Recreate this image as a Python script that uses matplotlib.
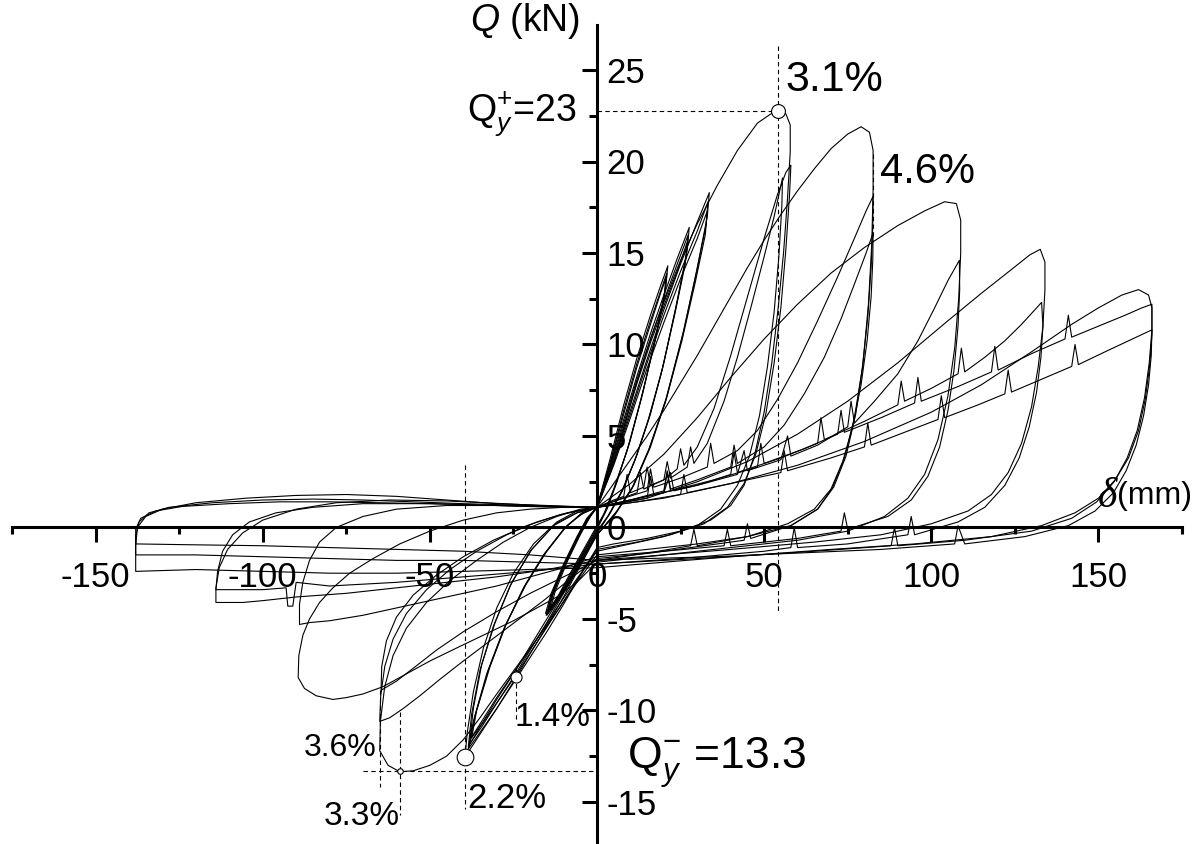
import numpy as np
import matplotlib
matplotlib.use("Agg")
import matplotlib.pyplot as plt

# ---- cyclic test record (delta in mm, Q in kN) ----
# small elastic cycles
g1a = [(0, 1.1), (4, 3.8), (8, 6.7), (12, 9.3), (16, 11.6), (19, 13.2), (21.2, 14.3), (20.6, 13.2), (18, 10.8),
       (14, 7.6), (10, 4.8), (6, 2.5), (3, 1.0), (0, -0.1), (-4, -1.4), (-8, -2.7), (-11, -3.7), (-14, -4.5),
       (-12.5, -3.5), (-9, -1.9), (-5, -0.4), (-2, 0.6), (0, 1.1)]
g1b = [(0, 1.1), (4, 3.6), (8, 6.4), (12, 9.0), (16, 11.3), (19, 12.9), (20.9, 13.9), (20.3, 12.8), (17.5, 10.3),
       (13.5, 7.2), (9.5, 4.5), (5.5, 2.3), (2.5, 0.9), (0, 0.0), (-4, -1.3), (-8, -2.6), (-11, -3.6), (-14.3, -4.5),
       (-12.8, -3.4), (-9, -1.8), (-5, -0.3), (-2, 0.6), (0, 1.1)]
g1c = [(0, 1.1), (4, 3.5), (8, 6.2), (12, 8.8), (16, 11.1), (19, 12.8), (20.6, 13.6), (20, 12.5), (17, 9.9),
       (13, 6.9), (9, 4.2), (5, 2.1), (2, 0.7), (0, 0.1), (-4, -1.2), (-8, -2.5), (-11.5, -3.7), (-14.6, -4.6),
       (-13, -3.4), (-9, -1.7), (-5, -0.2), (-2, 0.7), (0, 1.1)]
g2a = [(0, 1.1), (4, 3.4), (8, 5.9), (12, 8.3), (16, 10.6), (20, 12.7), (24, 14.7), (27.6, 16.4), (27, 15.2),
       (24, 12.4), (20, 9.0), (16, 6.2), (12, 4.0), (8, 2.2), (4, 0.8), (0, -0.3), (-4, -1.6), (-8, -3.0),
       (-12, -4.1), (-15, -4.8), (-13.5, -3.8), (-10, -2.2), (-6, -0.7), (-3, 0.4), (0, 1.1)]
g2b = [(0, 1.1), (4, 3.3), (8, 5.7), (12, 8.1), (16, 10.3), (20, 12.4), (24, 14.4), (27.3, 16.0), (26.7, 14.8),
       (23.6, 12.0), (19.6, 8.7), (15.6, 6.0), (11.6, 3.8), (7.6, 2.0), (3.6, 0.7), (0, -0.3), (-4, -1.5),
       (-8, -2.9), (-12, -4.0), (-15.2, -4.8), (-13.6, -3.7), (-10, -2.1), (-6, -0.6), (-3, 0.5), (0, 1.1)]
g2c = [(0, 1.1), (4, 3.2), (8, 5.5), (12, 7.9), (16, 10.1), (20, 12.1), (24, 14.0), (27.0, 15.6), (26.4, 14.4),
       (23.2, 11.6), (19.2, 8.4), (15.2, 5.8), (11.2, 3.6), (7.2, 1.9), (3.2, 0.6), (0, -0.2), (-4, -1.4),
       (-8, -2.8), (-12, -3.9), (-15.4, -4.7), (-13.7, -3.6), (-10, -2.0), (-6, -0.5), (-3, 0.5), (0, 1.1)]
g3a = [(0, 1.1), (5, 3.6), (10, 6.4), (15, 9.2), (20, 11.9), (25, 14.4), (30, 16.7), (33.6, 18.3), (33, 17.0),
       (30, 14.2), (26, 10.8), (21, 7.2), (16, 4.4), (11, 2.3), (6, 0.9), (0, -0.4), (-5, -2.1), (-10, -3.8),
       (-15, -5.4), (-20, -6.9), (-24.2, -8.2), (-30, -9.9), (-35, -11.2), (-38.5, -12.1), (-37, -10.6),
       (-33, -8.0), (-28, -5.6), (-22, -3.3), (-16, -1.5), (-10, -0.1), (-5, 0.7), (0, 1.1)]
g3b = [(0, 1.1), (5, 3.5), (10, 6.2), (15, 9.0), (20, 11.6), (25, 14.0), (30, 16.2), (33.2, 17.8), (32.6, 16.5),
       (29.6, 13.8), (25.6, 10.5), (20.6, 7.0), (15.6, 4.3), (10.6, 2.2), (5.6, 0.8), (0, -0.4), (-5, -2.0),
       (-10, -3.6), (-15, -5.2), (-20, -6.7), (-25, -8.2), (-30, -9.6), (-34.5, -10.9), (-38, -11.8),
       (-36.5, -10.3), (-32.5, -7.8), (-27.5, -5.4), (-21.5, -3.2), (-15.5, -1.4), (-9.5, 0.0), (-4.5, 0.8), (0, 1.1)]
g3c = [(0, 1.1), (5, 3.4), (10, 6.0), (15, 8.7), (20, 11.2), (25, 13.6), (30, 15.8), (33.0, 17.3), (32.4, 16.0),
       (29.4, 13.4), (25.4, 10.2), (20.4, 6.8), (15.4, 4.2), (10.4, 2.1), (5.4, 0.7), (0, -0.4), (-5, -1.9),
       (-10, -3.5), (-15, -5.0), (-20, -6.5), (-25, -8.0), (-30, -9.4), (-34, -10.6), (-37.5, -11.5),
       (-36, -10.0), (-32, -7.6), (-27, -5.2), (-21, -3.0), (-15, -1.3), (-9, 0.1), (-4, 0.8), (0, 1.1)]

# 3.1 % / 2.2 % cycles
cyc_a = [(0, 1.1), (4, 3.0), (8, 5.4), (12, 8.0), (16, 10.3), (20, 12.3), (25, 14.6), (30, 16.6), (36, 18.7),
         (42, 20.6), (48, 22.1), (52, 22.6), (54.2, 22.75), (56.5, 22.6), (57.8, 22.0), (57.8, 20.5), (57, 18.0),
         (55.8, 15.0), (54.2, 12.0), (52.3, 9.0), (50, 6.3), (47.2, 4.0), (44, 2.3), (40, 1.2), (34, 0.4),
         (25, -0.2), (15, -0.6), (5, -0.9), (0, -1.1), (-5, -2.6), (-10, -4.2), (-15, -5.7), (-20, -7.1),
         (-25, -8.5), (-30, -9.9), (-35, -11.3), (-39.5, -12.55), (-38.8, -11.2), (-37, -9.0), (-34, -6.6),
         (-30, -4.4), (-25, -2.5), (-19, -0.9), (-12, 0.3), (-6, 0.9), (0, 1.1)]
cyc_a2 = [(0, 1.1), (5, 1.5), (8, 1.7), (9, 2.9), (10, 1.9), (14, 2.2), (15, 3.3), (16, 2.3), (20, 2.6),
          (24, 3.2), (25, 4.3), (26, 3.4), (30, 4.4), (35, 6.5), (40, 9.4), (45, 12.6), (50, 15.8), (54, 18.2),
          (56.5, 19.4), (58, 19.8), (57.6, 18.2), (56.5, 15.2), (55, 12.0), (53, 9.0), (50.5, 6.2), (47.5, 4.0),
          (44, 2.4), (39, 1.1), (32, 0.2), (22, -0.4), (12, -0.8), (0, -1.2), (-6, -2.9), (-12, -4.6),
          (-18, -6.3), (-24, -8.0), (-30, -9.6), (-35, -10.9), (-38.5, -12.0), (-37.5, -10.2), (-35, -7.8),
          (-31, -5.4), (-26, -3.2), (-20, -1.3), (-13, 0.1), (-6, 0.8), (0, 1.1)]
cyc_a3 = [(0, 1.1), (6, 1.5), (12, 1.9), (13, 3.0), (14, 2.1), (20, 2.6), (21, 3.6), (22, 2.7), (27, 3.3),
          (28, 4.4), (29, 3.5), (33, 4.6), (38, 6.9), (42, 9.3), (46, 12.0), (50, 14.8), (53, 17.0), (55.5, 19.1),
          (55.3, 17.6), (54.4, 14.8), (53, 11.8), (51, 8.8), (48.6, 6.1), (45.6, 3.9), (42, 2.3), (37, 1.0),
          (30, 0.1), (20, -0.5), (10, -0.9), (0, -1.3), (-6, -2.8), (-12, -4.4), (-18, -6.1), (-24, -7.7),
          (-30, -9.3), (-34.5, -10.6), (-38, -11.6), (-37, -9.9), (-34.5, -7.5), (-30.5, -5.2), (-25.5, -3.0),
          (-19.5, -1.2), (-12.5, 0.2), (-6, 0.8), (0, 1.1)]

# 4.6 % / 3.6 % cycles
cyc_b = [(0, 1.1), (5, 2.4), (10, 3.7), (15, 5.0), (20, 6.4), (25, 7.9), (30, 9.4), (35, 11.0), (40, 12.6),
         (45, 14.2), (50, 15.7), (55, 17.1), (60, 18.4), (65, 19.6), (70, 20.7), (75, 21.5), (79, 21.9),
         (81.5, 21.6), (82.6, 20.6), (82.6, 18.5), (82.2, 15.5), (81.2, 12.2), (79.6, 9.0), (77.4, 6.2),
         (74.5, 3.9), (70.8, 2.2), (66, 1.0), (58, 0.1), (45, -0.5), (30, -0.9), (15, -1.2), (0, -1.5),
         (-6, -3.0), (-12, -4.6), (-18, -6.1), (-24, -7.6), (-30, -9.1), (-35, -10.4), (-40, -11.6), (-45, -12.5),
         (-50, -13.0), (-55, -13.3), (-59, -13.35), (-62.5, -13.0), (-65, -12.2), (-64.8, -10.6), (-63.5, -8.7),
         (-61, -7.0), (-57, -5.5), (-51, -4.1), (-44, -2.9), (-36, -1.8), (-28, -0.8), (-20, 0.0), (-12, 0.6),
         (-5, 1.0), (0, 1.1)]
cyc_b2 = [(0, 1.1), (8, 1.6), (15, 2.0), (16, 3.2), (17, 2.2), (25, 2.7), (33, 3.3), (34, 4.6), (35, 3.5),
          (42, 4.2), (48, 5.3), (54, 7.0), (60, 9.0), (66, 11.3), (72, 13.7), (77, 15.8), (80.5, 17.3),
          (82.6, 18.1), (82.5, 16.5), (82, 14.2), (81, 11.5), (79.3, 8.6), (77, 6.0), (74, 3.8), (70.5, 2.2),
          (66, 1.0), (58, 0.1), (46, -0.6), (45, 0.2), (44, -0.7), (32, -1.0), (16, -1.4), (0, -1.7), (-8, -2.8),
          (-16, -4.0), (-24, -5.1), (-32, -6.2), (-40, -7.3), (-47, -8.3), (-53, -9.2), (-58, -9.9), (-62, -10.4),
          (-65, -10.6), (-64.7, -9.2), (-63.5, -7.6), (-61, -6.1), (-57, -4.7), (-51, -3.4), (-44, -2.3),
          (-36, -1.3), (-27, -0.4), (-18, 0.3), (-9, 0.8), (0, 1.1)]
cyc_b3 = [(0, 1.1), (10, 1.5), (20, 2.0), (21, 3.1), (22, 2.1), (30, 2.6), (40, 3.3), (41, 4.5), (42, 3.5),
          (50, 4.4), (56, 5.6), (62, 7.3), (68, 9.3), (73, 11.4), (77, 13.3), (80.5, 15.0), (82.6, 16.1),
          (82.5, 14.6), (82, 12.6), (80.8, 10.2), (79, 7.8), (76.5, 5.5), (73.5, 3.6), (70, 2.1), (65, 1.0),
          (57, 0.2), (45, -0.5), (30, -1.0), (29, -0.1), (28, -1.0), (15, -1.4), (0, -1.8), (-10, -2.7),
          (-20, -3.6), (-30, -4.6), (-40, -5.7), (-48, -6.7), (-55, -7.7), (-60, -8.4), (-64.6, -8.9),
          (-64.4, -7.6), (-63, -6.2), (-60, -4.9), (-55, -3.7), (-48, -2.6), (-40, -1.6), (-31, -0.7), (-21, 0.1),
          (-11, 0.7), (0, 1.1)]

# larger cycles
cyc_c = [(0, 1.1), (10, 2.4), (20, 4.0), (30, 6.0), (40, 8.2), (50, 10.3), (60, 12.2), (70, 13.9), (80, 15.3),
         (90, 16.5), (98, 17.3), (104, 17.8), (107.5, 17.7), (108.8, 16.8), (108.8, 15.0), (108.2, 12.5),
         (107, 9.8), (105, 7.2), (102, 4.8), (98, 2.9), (93, 1.6), (86, 0.6), (75, -0.2), (60, -0.7),
         (40, -1.1), (20, -1.5), (0, -1.9), (-6, -3.0), (-12, -3.8), (-18, -4.4), (-25, -5.1), (-33, -5.8),
         (-41, -6.5), (-50, -7.3), (-58, -8.1), (-64, -8.7), (-70, -9.1), (-75, -9.3), (-79, -9.4), (-84, -9.2),
         (-87.5, -8.8), (-89.4, -8.2), (-89.2, -7.0), (-88, -5.9), (-86, -5.0), (-83, -4.1), (-79, -3.3),
         (-74, -2.5), (-67, -1.7), (-59, -0.9), (-50, -0.2), (-40, 0.4), (-30, 0.8), (-20, 1.0), (-10, 1.1),
         (0, 1.1)]
cyc_c2 = [(0, 1.1), (10, 1.5), (20, 1.9), (22, 3.0), (23, 2.0), (32, 2.4), (42, 2.9), (44, 4.2), (45, 3.1),
          (55, 3.7), (57, 5.0), (58, 3.9), (66, 4.5), (75, 5.5), (76, 6.9), (77, 5.7), (83, 6.9), (90, 8.4),
          (96, 10.2), (101, 12.0), (105, 13.5), (108.4, 14.6), (108.5, 13.0), (108, 11.0), (106.8, 8.6),
          (105, 6.4), (102.5, 4.4), (99, 2.8), (94, 1.5), (87, 0.6), (75, -0.1), (74, 0.8), (73, -0.2), (60, -0.6),
          (40, -1.0), (39, -0.1), (38, -1.0), (20, -1.3), (0, -1.6), (-10, -2.2), (-20, -2.7), (-30, -3.2),
          (-40, -3.6), (-50, -4.0), (-60, -4.4), (-70, -4.8), (-80, -5.1), (-86, -5.2), (-89, -5.3), (-89, -4.2),
          (-88, -3.0), (-86, -1.8), (-83, -0.8), (-78, 0.0), (-70, 0.6), (-60, 1.0), (-45, 1.2), (-30, 1.2),
          (-15, 1.15), (0, 1.1)]
cyc_d = [(0, 1.1), (15, 1.6), (30, 2.5), (45, 3.6), (60, 5.1), (75, 6.9), (90, 9.0), (105, 11.3), (115, 12.8),
         (124, 14.1), (129.5, 14.9), (132.6, 15.2), (134, 14.5), (134, 13.0), (133.4, 11.0), (132, 8.8),
         (130, 6.6), (127, 4.6), (123, 3.0), (118, 1.8), (111, 0.9), (100, 0.2), (85, -0.4), (65, -0.8),
         (40, -1.2), (20, -1.5), (0, -1.8), (-15, -2.3), (-30, -2.7), (-45, -3.0), (-60, -3.3), (-75, -3.6),
         (-90, -3.8), (-100, -4.0), (-106, -4.1), (-114, -4.1), (-114, -3.3), (-113, -2.2), (-110.5, -1.2),
         (-106, -0.3), (-100, 0.4), (-90, 1.0), (-78, 1.35), (-62, 1.5), (-45, 1.45), (-28, 1.3), (-12, 1.15),
         (0, 1.1)]
cyc_d2 = [(0, 1.1), (15, 1.6), (16, 2.8), (17, 1.8), (30, 2.3), (40, 2.9), (41, 4.1), (42, 3.0), (55, 3.8),
          (66, 4.6), (67, 6.0), (68, 4.8), (80, 5.8), (90, 6.7), (91, 8.0), (92, 6.9), (100, 7.6), (108, 8.4),
          (109, 9.8), (110, 8.5), (116, 9.3), (122, 10.2), (127, 11.1), (131, 11.9), (133, 12.3), (133.4, 11.0),
          (132.8, 9.3), (131.5, 7.4), (129.3, 5.5), (126.3, 3.8), (122, 2.3), (116, 1.1), (108, 0.3), (95, -0.4),
          (94, 0.6), (93, -0.4), (75, -0.9), (60, -1.1), (59, 0.0), (58, -1.1), (50, -1.3), (25, -1.7), (0, -2.0),
          (-20, -2.4), (-40, -2.7), (-60, -3.0), (-80, -3.2), (-90, -3.0), (-91, -4.3), (-92.5, -4.3), (-93, -3.3),
          (-100, -3.4), (-108, -3.4), (-114, -3.4), (-113.5, -2.4), (-112, -1.3), (-109, -0.4), (-104, 0.3),
          (-96, 0.8), (-85, 1.1), (-70, 1.3), (-50, 1.3), (-30, 1.2), (-12, 1.1), (0, 1.1)]
cyc_e = [(0, 1.1), (20, 1.6), (40, 2.4), (60, 3.4), (80, 4.7), (100, 6.3), (115, 7.8), (130, 9.6), (142, 11.1),
         (150, 12.0), (157, 12.7), (162, 13.0), (165, 12.7), (166, 12.0), (166, 10.5), (165.3, 8.8), (164, 7.0),
         (162, 5.3), (159, 3.8), (155, 2.6), (150, 1.6), (143, 0.8), (133, 0.1), (118, -0.5), (95, -0.9),
         (70, -1.2), (40, -1.6), (20, -1.9), (0, -2.2), (-20, -2.3), (-40, -2.4), (-60, -2.5), (-80, -2.5),
         (-100, -2.4), (-120, -2.3), (-138, -2.4), (-138, -1.0), (-137.5, 0.0), (-135, 0.6), (-130, 1.0),
         (-120, 1.35), (-105, 1.6), (-90, 1.75), (-75, 1.8), (-60, 1.7), (-45, 1.5), (-30, 1.3), (-15, 1.2),
         (0, 1.1)]
cyc_e2 = [(0, 1.1), (10, 1.5), (20, 1.9), (21, 3.0), (22, 2.0), (35, 2.6), (48, 3.3), (49, 4.6), (50, 3.5),
          (62, 4.3), (72, 5.1), (73, 6.4), (74, 5.2), (85, 6.0), (95, 6.8), (96, 8.2), (97, 6.9), (108, 7.7),
          (118, 8.5), (119, 9.9), (120, 8.6), (130, 9.5), (140, 10.3), (141, 11.6), (142, 10.4), (150, 11.0),
          (158, 11.6), (163, 12.0), (166, 12.2), (166, 10.8), (165.2, 9.0), (163.8, 7.1), (161.6, 5.3),
          (158.6, 3.8), (154.7, 2.5), (149.5, 1.4), (142, 0.5), (130, -0.2), (110, -0.7), (90, -1.0), (89, 0.0),
          (88, -1.0), (65, -1.3), (40, -1.6), (20, -1.8), (0, -2.0), (-20, -1.9), (-40, -1.8), (-60, -1.8),
          (-80, -1.7), (-100, -1.6), (-120, -1.5), (-138, -1.5), (-138, -0.5), (-137, 0.3), (-134, 0.8),
          (-128, 1.1), (-115, 1.35), (-100, 1.5), (-85, 1.55), (-70, 1.5), (-55, 1.4), (-40, 1.3), (-20, 1.2),
          (0, 1.1)]
cyc_e3 = [(0, 1.1), (12, 1.4), (25, 1.8), (26, 2.9), (27, 1.9), (40, 2.4), (55, 3.0), (56, 4.2), (57, 3.1),
          (70, 3.8), (80, 4.4), (81, 5.7), (82, 4.5), (92, 5.2), (102, 5.9), (103, 7.2), (104, 6.0), (114, 6.7),
          (122, 7.3), (123, 8.6), (124, 7.4), (133, 8.1), (142, 8.8), (143, 10.0), (144, 8.9), (152, 9.6),
          (159, 10.2), (166, 10.8), (165.8, 9.4), (165, 7.8), (163.5, 6.1), (161.3, 4.5), (158.3, 3.1),
          (154.5, 1.9), (149, 0.9), (141, 0.1), (128, -0.5), (110, -0.9), (108, 0.1), (107, -0.9), (85, -1.2),
          (60, -1.4), (35, -1.6), (15, -1.7), (0, -1.8), (-20, -1.5), (-40, -1.3), (-60, -1.2), (-80, -1.1),
          (-100, -1.0), (-120, -0.95), (-138, -0.9), (-138, -0.1), (-136.5, 0.5), (-132, 0.9), (-124, 1.15),
          (-110, 1.3), (-95, 1.4), (-80, 1.4), (-65, 1.35), (-50, 1.3), (-30, 1.2), (-15, 1.15), (0, 1.1)]

cycles = [g1a, g1b, g1c, g2a, g2b, g2c, g3a, g3b, g3c, cyc_a, cyc_a2, cyc_a3,
          cyc_b, cyc_b2, cyc_b3, cyc_c, cyc_c2, cyc_d, cyc_d2, cyc_e, cyc_e2, cyc_e3]

# marked points (delta mm, Q kN)
pt_31 = (54.2, 22.75)    # Qy+ = 23 at 3.1 %
pt_46 = (82.6, 20.4)     # 4.6 %
pt_22 = (-39.5, -12.55)  # 2.2 %
pt_14 = (-24.2, -8.2)    # 1.4 %
pt_33 = (-59.0, -13.3)   # Qy- = 13.3 at 3.3 %
pt_36 = (-65.0, -12.2)   # 3.6 %

x_major = [-150, -100, -50, 0, 50, 100, 150]
x_minor = [-175, -125, -75, -25, 25, 75, 125, 175]
y_major = [-15, -10, -5, 0, 5, 10, 15, 20, 25]
y_minor = [-12.5, -7.5, -2.5, 2.5, 7.5, 12.5, 17.5, 22.5]

plt.rcParams['font.family'] = ['Liberation Sans', 'DejaVu Sans']
plt.rcParams['mathtext.fontset'] = 'custom'
plt.rcParams['mathtext.rm'] = 'Liberation Sans'
plt.rcParams['mathtext.it'] = 'Liberation Sans:italic'
plt.rcParams['axes.unicode_minus'] = False

fig = plt.figure(figsize=(11.97, 8.44), dpi=100)
ax = fig.add_axes([12 / 1197, 0, 1170 / 1197, 819 / 844])

for cyc in cycles:
    xy = np.array(cyc)
    ax.plot(xy[:, 0], xy[:, 1], color="black", lw=0.8)

# dashed guide lines
dash = dict(color="black", lw=0.8, ls=(0, (4, 3)))
ax.plot([0, pt_31[0]], [pt_31[1], pt_31[1]], **dash)
ax.plot([pt_31[0], pt_31[0]], [26.3, -4.7], **dash)
ax.plot([pt_46[0], pt_46[0]], [pt_46[1], 15.7], **dash)
ax.plot([pt_22[0], pt_22[0]], [3.4, -15.4], **dash)
ax.plot([pt_14[0], pt_14[0]], [-7.7, -10.6], **dash)
ax.plot([-70, 0], [pt_33[1], pt_33[1]], **dash)
ax.plot([pt_36[0], pt_36[0]], [-8.9, -14.2], **dash)
ax.plot([pt_33[0], pt_33[0]], [-10.1, -15.7], **dash)

mk = dict(marker="o", mfc="white", mec="black", mew=0.8, ls="none")
ax.plot(*pt_31, ms=10, **mk)
ax.plot(*pt_22, ms=12, **mk)
ax.plot(*pt_14, ms=8, **mk)
ax.plot(*pt_33, ms=4, **mk)

# axes through the origin
ax.set_xlim(-175, 175)
ax.set_ylim(-17.3, 27.46)
ax.spines["left"].set_visible(False)
ax.spines["top"].set_visible(False)
ax.spines["bottom"].set_position(("data", 0))
ax.spines["right"].set_position(("data", 0))
for s in ("bottom", "right"):
    ax.spines[s].set_linewidth(2.2)
ax.xaxis.set_ticks_position("bottom")
ax.yaxis.set_ticks_position("right")
ax.set_xticks(x_major)
ax.set_xticks(x_minor, minor=True)
ax.set_yticks(y_major)
ax.set_yticks(y_minor, minor=True)
ax.tick_params(axis="x", which="major", direction="out", length=11, width=2.2, labelsize=25, pad=13)
ax.tick_params(axis="x", which="minor", direction="out", length=5, width=2.2)
ax.tick_params(axis="y", which="major", direction="in", length=11, width=2.2, labelsize=25, pad=7)
ax.tick_params(axis="y", which="minor", direction="in", length=5.5, width=2.2)

# labels and annotations
ax.text(-5, 27.7, "$Q$ (kN)", fontsize=27, ha="right", va="center", clip_on=False)
ax.text(155.5, 1.7, "\u03b4", fontsize=30, fontfamily="Liberation Serif", style="italic",
        ha="right", va="center")
ax.text(155.5, 1.7, "(mm)", fontsize=23, ha="left", va="center")
ax.text(-6, 22.6, r"$\mathrm{Q}_{y}^{+}$=23", fontsize=27, ha="right", va="center")
ax.text(9.0, -12.85, r"$\mathrm{Q}_{y}^{-}$ =13.3", fontsize=32, ha="left", va="center")
ax.text(56.3, 24.45, "3.1%", fontsize=31, ha="left", va="center")
ax.text(84.7, 19.4, "4.6%", fontsize=30, ha="left", va="center")
ax.text(-66.0, -12.05, "3.6%", fontsize=23, ha="right", va="center")
ax.text(-70.4, -15.8, "3.3%", fontsize=24, ha="center", va="center")
ax.text(-38.9, -14.8, "2.2%", fontsize=25, ha="left", va="center")
ax.text(-24.6, -10.4, "1.4%", fontsize=24, ha="left", va="center")

fig.savefig("out.png", dpi=100)
plt.close(fig)
